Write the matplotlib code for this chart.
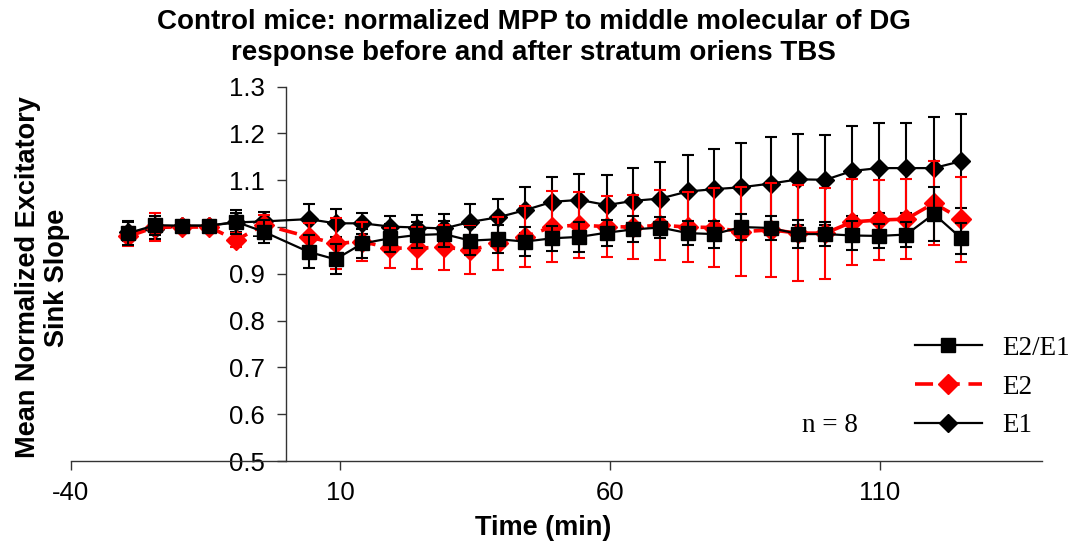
import matplotlib
matplotlib.use('Agg')
import matplotlib.pyplot as plt
from matplotlib.lines import Line2D

plt.rcParams['font.family'] = ['Liberation Sans', 'DejaVu Sans']
plt.rcParams['axes.unicode_minus'] = False

# time points (min) relative to TBS
time = [-29.3, -24.3, -19.4, -14.3, -9.3, -4.2,
        4.1, 9.1, 14.1, 19.2, 24.2, 29.2, 34.1, 39.3, 44.2, 49.3, 54.3, 59.4,
        64.3, 69.3, 74.4, 79.3, 84.3, 89.8, 94.9, 99.9, 104.9, 109.8, 114.9,
        120.0, 125.1]

e2e1 = [0.987, 1.004, 1.003, 1.003, 1.011, 0.990,
        0.947, 0.931, 0.965, 0.976, 0.983, 0.985, 0.971, 0.974, 0.969, 0.976,
        0.979, 0.988, 0.995, 0.999, 0.987, 0.985, 1.000, 0.998, 0.985, 0.985,
        0.982, 0.981, 0.984, 1.028, 0.976]
e2e1_err = [0.025, 0.020, 0.010, 0.010, 0.025, 0.025,
            0.035, 0.032, 0.031, 0.030, 0.028, 0.028, 0.030, 0.030, 0.031,
            0.027, 0.032, 0.028, 0.028, 0.022, 0.025, 0.029, 0.028, 0.025,
            0.030, 0.025, 0.030, 0.025, 0.026, 0.058, 0.033]

e2 = [0.980, 1.000, 1.000, 1.000, 0.972, 1.005,
      0.979, 0.965, 0.969, 0.955, 0.955, 0.957, 0.951, 0.965, 0.979, 1.001,
      1.004, 1.001, 1.000, 1.004, 1.000, 0.999, 0.990, 0.994, 0.987, 0.987,
      1.011, 1.015, 1.017, 1.051, 1.017]
e2_err = [0.020, 0.030, 0.010, 0.010, 0.015, 0.020,
          0.030, 0.055, 0.041, 0.043, 0.045, 0.048, 0.051, 0.057, 0.065,
          0.075, 0.070, 0.065, 0.068, 0.075, 0.074, 0.085, 0.095, 0.100,
          0.102, 0.097, 0.092, 0.085, 0.086, 0.090, 0.091]

e1 = [0.990, 0.995, 1.003, 1.003, 1.010, 1.012,
      1.017, 1.008, 1.008, 1.001, 0.999, 0.997, 1.011, 1.021, 1.036, 1.054,
      1.058, 1.047, 1.056, 1.061, 1.076, 1.081, 1.085, 1.093, 1.102, 1.101,
      1.120, 1.126, 1.126, 1.126, 1.141]
e1_err = [0.020, 0.020, 0.010, 0.010, 0.020, 0.020,
          0.032, 0.030, 0.023, 0.023, 0.027, 0.031, 0.038, 0.038, 0.049,
          0.052, 0.055, 0.064, 0.070, 0.077, 0.079, 0.085, 0.095, 0.099,
          0.097, 0.096, 0.096, 0.096, 0.097, 0.109, 0.100]

x_ticks = [-40, 10, 60, 110]
y_ticks = [0.5, 0.6, 0.7, 0.8, 0.9, 1.0, 1.1, 1.2, 1.3]
y_tick_labels = ['0.5', '0.6', '0.7', '0.8', '0.9', '1', '1.1', '1.2', '1.3']

fig = plt.figure(figsize=(10.7, 5.5), dpi=100)
ax = fig.add_axes([0.066, 0.1618, 0.9076, 0.6806])

red_dash = (0, (5, 2.4))

# E1 drawn first, E2/E1 on top
ax.errorbar(time, e1, yerr=e1_err, color='black', lw=1.6, marker='D', ms=9,
            ecolor='black', elinewidth=1.5, capsize=4.5, capthick=1.5, zorder=3)
ax.errorbar(time, e2, yerr=e2_err, color='#ff0000', lw=2.6, ls=red_dash,
            marker='D', ms=10, ecolor='#ff0000', elinewidth=1.5, capsize=4.5,
            capthick=1.5, zorder=4)
ax.errorbar(time, e2e1, yerr=e2e1_err, color='black', lw=1.6, marker='s', ms=10.5,
            ecolor='black', elinewidth=1.5, capsize=4.5, capthick=1.5, zorder=5)

ax.set_xlim(-40, 140)
ax.set_ylim(0.5, 1.3)
ax.set_xticks(x_ticks)
ax.set_yticks(y_ticks)
ax.set_yticklabels(y_tick_labels)

ax.spines['top'].set_visible(False)
ax.spines['right'].set_visible(False)
ax.spines['left'].set_position(('data', 0))
for s in ('left', 'bottom'):
    ax.spines[s].set_linewidth(1.0)
    ax.spines[s].set_color('#333333')

ax.tick_params(axis='both', direction='out', length=6.5, width=1.0,
               color='#333333', labelsize=18.5, pad=8)
ax.tick_params(axis='y', pad=9)

fig.text(0.499, 0.983,
         'Control mice: normalized MPP to middle molecular of DG\n'
         'response before and after stratum oriens TBS',
         ha='center', va='top', fontsize=20, fontweight='bold', linespacing=1.25)
fig.text(0.5075, 0.04, 'Time (min)', ha='center', va='center',
         fontsize=19.5, fontweight='bold')
fig.text(0.040, 0.4955, 'Mean Normalized Excitatory\nSink Slope', ha='center',
         va='center', rotation=90, fontsize=19.5, fontweight='bold',
         multialignment='center', linespacing=1.15)

fig.text(0.776, 0.227, 'n = 8', ha='center', va='center', fontsize=19.5,
         family='Liberation Serif')

handles = [
    Line2D([], [], color='black', lw=1.6, marker='s', ms=10.5),
    Line2D([], [], color='#ff0000', lw=2.6, ls=red_dash, marker='D', ms=10),
    Line2D([], [], color='black', lw=1.6, marker='D', ms=9),
]
ax.legend(handles, ['E2/E1', 'E2', 'E1'], loc='center left',
          bbox_to_anchor=(915 / 1070, 1 - 387 / 550),
          bbox_transform=fig.transFigure, frameon=False,
          prop={'family': 'Liberation Serif', 'size': 19.5},
          handlelength=2.47, handletextpad=0.77, labelspacing=0.5,
          borderpad=0, borderaxespad=0)

fig.savefig('out.png', dpi=100)
